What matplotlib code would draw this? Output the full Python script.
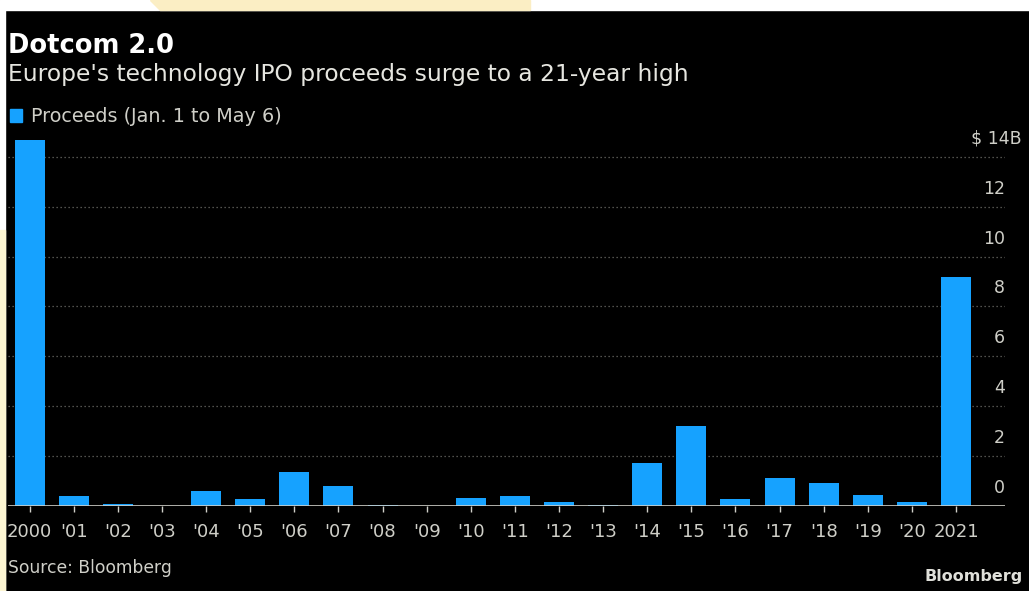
import matplotlib
matplotlib.use("Agg")
import matplotlib.pyplot as plt
from matplotlib.patches import Rectangle, Polygon
from matplotlib.transforms import blended_transform_factory

# data (USD billions, Jan. 1 to May 6)
years = ["2000", "'01", "'02", "'03", "'04", "'05", "'06", "'07", "'08", "'09", "'10",
         "'11", "'12", "'13", "'14", "'15", "'16", "'17", "'18", "'19", "'20", "2021"]
proceeds = [14.67, 0.40, 0.07, 0.02, 0.61, 0.29, 1.35, 0.81, 0.05, 0.02, 0.33,
            0.39, 0.15, 0.03, 1.71, 3.21, 0.29, 1.12, 0.92, 0.45, 0.15, 9.18]
y_ticks = [0, 2, 4, 6, 8, 10, 12, 14]

W, H = 1029, 591
BG = "#000000"
BAR = "#16a2ff"
GRID = "#6b6b66"
TXT = "#cfcfc8"

fig = plt.figure(figsize=(W / 100, H / 100), dpi=100, facecolor=BG)

def px(x, y):
    # pixel (from top-left) to figure fraction
    return x / W, 1 - y / H

# page border bits around the black panel
fig.patches.append(Rectangle((0, 1 - 10 / H), 1, 10 / H, transform=fig.transFigure,
                             color="white", zorder=0))
fig.patches.append(Rectangle((0, 0), 5 / W, 1, transform=fig.transFigure,
                             color="white", zorder=0))
fig.patches.append(Rectangle((0, 0), 5 / W, 1 - 230 / H, transform=fig.transFigure,
                             color="#fdf6d3", zorder=0))
fig.patches.append(Polygon([px(150, 0), px(530, 0), px(530, 10), px(160, 10)],
                           closed=True, transform=fig.transFigure,
                           color="#fbeec4", zorder=0))

# axes placed in pixels: baseline at y=506, 2 units = 50 px
x0, x1 = 8, 1005
y_base = 506
unit = 24.95
ymax = 15
ax = fig.add_axes([x0 / W, (H - y_base) / H, (x1 - x0) / W, ymax * unit / H])
ax.set_facecolor(BG)

xs = list(range(len(years)))
ax.bar(xs, proceeds, width=0.68, color=BAR, zorder=3)
ax.set_xlim(-0.49, 22.11)
ax.set_ylim(0, ymax)

for v in y_ticks[1:]:
    ax.axhline(v, color=GRID, lw=0.9, linestyle=(0, (1, 2.2)), zorder=1)
ax.axhline(0, color=TXT, lw=1.2, zorder=4)

for s in ax.spines.values():
    s.set_visible(False)
ax.set_yticks([])
ax.set_xticks(xs)
ax.set_xticklabels(years, fontsize=13, color=TXT)
ax.tick_params(axis="x", length=4, width=1, color=TXT, pad=8)

# y labels sit above their gridlines on the right
tr = blended_transform_factory(ax.transAxes, ax.transData)
for v in y_ticks:
    label = "$ 14B" if v == 14 else str(v)
    xpos = 1.0 if v != 14 else 1.0 + 17 / (x1 - x0)
    ax.text(xpos, v + 0.72, label, transform=tr, ha="right", va="center",
            fontsize=12.5, color=TXT)

# titles and legend
fig.text(*px(8, 46), "Dotcom 2.0", fontsize=18.5, fontweight="bold", color="white",
         va="center", ha="left")
fig.text(*px(8, 75), "Europe's technology IPO proceeds surge to a 21-year high",
         fontsize=16.8, color="#e6e6e0", va="center", ha="left")
fig.patches.append(Rectangle(px(10, 122), 12 / W, 13 / H, transform=fig.transFigure,
                             color=BAR))
fig.text(*px(31, 116), "Proceeds (Jan. 1 to May 6)", fontsize=13.8, color=TXT,
         va="center", ha="left")

fig.text(*px(8, 568), "Source: Bloomberg", fontsize=12.3, color=TXT,
         va="center", ha="left")
fig.text(*px(1023, 577), "Bloomberg", fontsize=11.5, fontweight="bold",
         color="#e0e0da", va="center", ha="right")

fig.savefig("out.png", dpi=100, facecolor=BG)
